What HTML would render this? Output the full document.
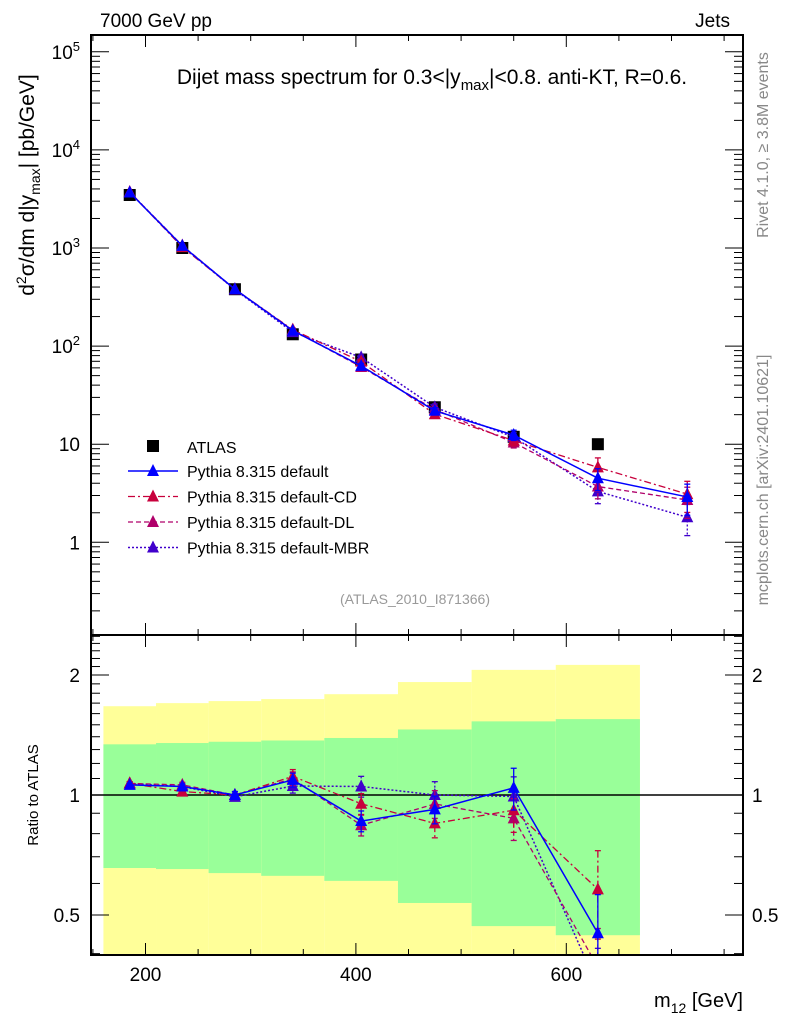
<!DOCTYPE html>
<html><head><meta charset="utf-8"><style>
body{margin:0;background:#fff;}
svg{display:block;font-family:"Liberation Sans",Arial,sans-serif;}
</style></head><body>
<svg id="c" width="786" height="1024" xmlns="http://www.w3.org/2000/svg">
<defs>
<clipPath id="clipMain"><rect x="91" y="35" width="652" height="600"/></clipPath>
<clipPath id="clipRatio"><rect x="91" y="635" width="652" height="320"/></clipPath>
</defs>
<g id="bands" clip-path="url(#clipRatio)"></g>
<g id="marks"></g>
<g id="axes"></g>
<text x="100" y="27" font-size="19">7000 GeV pp</text>
<text x="730" y="27" font-size="19" text-anchor="end">Jets</text>
<text x="432" y="84" font-size="21" text-anchor="middle">Dijet mass spectrum for 0.3&lt;|y<tspan font-size="15" dy="6">max</tspan><tspan dy="-6">|&lt;0.8.  anti-KT, R=0.6.</tspan></text>
<text x="415" y="604" font-size="14" fill="#999" text-anchor="middle">(ATLAS_2010_I871366)</text>
<text transform="translate(768,145) rotate(-90)" font-size="16" fill="#888" text-anchor="middle">Rivet 4.1.0, ≥ 3.8M events</text>
<text transform="translate(768,480) rotate(-90)" font-size="16" fill="#888" text-anchor="middle">mcplots.cern.ch [arXiv:2401.10621]</text>
<text transform="translate(34,185) rotate(-90)" font-size="21" text-anchor="middle">d<tspan font-size="14" dy="-8">2</tspan><tspan dy="8">σ/dm d|y</tspan><tspan font-size="14" dy="6">max</tspan><tspan dy="-6">| [pb/GeV]</tspan></text>
<text transform="translate(38,795) rotate(-90)" font-size="15" text-anchor="middle">Ratio to ATLAS</text>
<text x="743" y="1007" font-size="20" text-anchor="end">m<tspan font-size="14" dy="6">12</tspan><tspan dy="-6"> [GeV]</tspan></text>
</svg>
<script>
const xCenters=[185,235,285,340,405,475,550,630,715];
const atlas=[3470,1000,380,132,73,23.8,11.9,10.0];
const mcDefault=[3680,1050,380,144,62.8,21.9,12.4,4.5,2.9];
const mcCD=[3710,1020,380,147,69.4,20.2,10.9,5.8,3.1];
const mcDL=[3710,1060,380,145,61.3,22.6,10.4,3.7,2.7];
const mcMBR=[3710,1050,376,139,76.7,23.8,11.8,3.3,1.8];
const mcRelErr=[0.01,0.015,0.02,0.04,0.06,0.08,0.12,0.25,0.35];
const binEdges=[160,210,260,310,370,440,510,590,670];
const yellowUp=[1.67,1.70,1.72,1.74,1.79,1.92,2.06,2.12];
const yellowLo=[0.30,0.30,0.30,0.30,0.30,0.30,0.30,0.30];
const greenUp=[1.34,1.35,1.36,1.37,1.39,1.46,1.53,1.55];
const greenLo=[0.656,0.652,0.637,0.627,0.609,0.536,0.469,0.445];
const xTicks=[200,400,600];
const mainTickLabels=["1","10","10^2","10^3","10^4","10^5"];
const ratioTicks=[0.5,1,2];

const NS="http://www.w3.org/2000/svg";
const X=m=>145.5+(m-200)*1.052;
const YM=v=>542.3-98.1*Math.log10(v);
const YR=r=>795-398.7*Math.log10(r);
function el(tag,attrs,parent){const e=document.createElementNS(NS,tag);for(const k in attrs)e.setAttribute(k,attrs[k]);parent.appendChild(e);return e;}
const bands=document.getElementById('bands'),marks=document.getElementById('marks'),axes=document.getElementById('axes');

for(let i=0;i<binEdges.length-1;i++){
  const x0=X(binEdges[i]),x1=X(binEdges[i+1]);
  const y=el('rect',{x:x0,y:YR(yellowUp[i]),width:x1-x0,height:YR(yellowLo[i])-YR(yellowUp[i]),fill:'#ffff99'},bands);
  
  
  const g=el('rect',{x:x0,y:YR(greenUp[i]),width:x1-x0,height:YR(greenLo[i])-YR(greenUp[i]),fill:'#99ff99'},bands);
  
  
}
const one=el('line',{x1:91,x2:743,y1:YR(1),y2:YR(1),stroke:'#000','stroke-width':1.5},marks);



const gMain=el('g',{'clip-path':'url(#clipMain)'},marks);
const gRatio=el('g',{'clip-path':'url(#clipRatio)'},marks);
function tri(parent,x,y,c){return el('polygon',{points:`${x-6},${y+5} ${x+6},${y+5} ${x},${y-7}`,fill:c},parent);}
function ebar(parent,x,y1,y2,s){el('line',{x1:x,x2:x,y1:y1,y2:y2,stroke:s.color,'stroke-width':1.3,'stroke-dasharray':s.dash},parent);
  el('line',{x1:x-3,x2:x+3,y1:y1,y2:y1,stroke:s.color,'stroke-width':1.3},parent);
  el('line',{x1:x-3,x2:x+3,y1:y2,y2:y2,stroke:s.color,'stroke-width':1.3},parent);}
const series=[
 {name:'default',vals:mcDefault,color:'#0000ff',dash:'',w:1.5},
 {name:'default-CD',vals:mcCD,color:'#c8003c',dash:'7,3,2,3',w:1.3},
 {name:'default-DL',vals:mcDL,color:'#b0006a',dash:'5,3',w:1.3},
 {name:'default-MBR',vals:mcMBR,color:'#4000cc',dash:'2,2',w:1.5}];
atlas.forEach((v,i)=>{const r=el('rect',{x:X(xCenters[i])-6,y:YM(v)-6,width:12,height:12,fill:'#000'},gMain);
 
 });
series.slice().reverse().forEach(s=>{
  const pm=s.vals.map((v,i)=>X(xCenters[i])+','+YM(v)).join(' ');
  const l=el('polyline',{points:pm,fill:'none',stroke:s.color,'stroke-width':s.w,'stroke-dasharray':s.dash},gMain);
  
  
  s.vals.forEach((v,i)=>{const x=X(xCenters[i]),e=mcRelErr[i];
    ebar(gMain,x,YM(v*(1+e)),YM(v*(1-e)),s);
    const t=tri(gMain,x,YM(v),s.color);
    
    });
  const rv=atlas.map((a,i)=>s.vals[i]/a);
  const pr=rv.map((r,i)=>X(xCenters[i])+','+YR(r)).join(' ');
  const lr=el('polyline',{points:pr,fill:'none',stroke:s.color,'stroke-width':s.w,'stroke-dasharray':s.dash},gRatio);
  
  
  rv.forEach((r,i)=>{const x=X(xCenters[i]),e=mcRelErr[i];
    ebar(gRatio,x,YR(r*(1+e)),YR(r*(1-e)),s);
    const t=tri(gRatio,x,YR(r),s.color);
    
    });
});
const lg=el('g',{},marks);


const sq=el('rect',{x:147,y:440,width:12,height:12,fill:'#000'},lg);


const lt=el('text',{x:187,y:453,'font-size':16},lg);lt.textContent='ATLAS';


series.forEach((s,i)=>{const y=471+i*25.5;
  el('line',{x1:128,x2:178,y1:y,y2:y,stroke:s.color,'stroke-width':s.w,'stroke-dasharray':s.dash},lg);
  tri(lg,153,y,s.color);
  const t=el('text',{x:187,y:y+6,'font-size':16},lg);t.textContent='Pythia 8.315 '+s.name;
  
  });
[[35,600],[635,320]].forEach(([y,h],k)=>{const f=el('rect',{x:91,y:y,width:652,height:h,fill:'none',stroke:'#000','stroke-width':2},axes);
 
 });
for(let m=150;m<=765;m+=50){const x=X(m);const major=(m%200===0);const L=major?12:6;
  [[635,-1],[955,-1],[35,1],[635,1]].forEach(([y,d])=>el('line',{x1:x,x2:x,y1:y,y2:y+d*L,stroke:'#000','stroke-width':1},axes));}
xTicks.forEach(m=>{const t=el('text',{x:X(m),y:981,'font-size':19,'text-anchor':'middle'},axes);t.textContent=m;
 
 });
for(let d=-1;d<=5;d++){for(let k=1;k<=9;k++){const v=k*Math.pow(10,d);const y=YM(v);if(y<35||y>635)continue;const L=k===1?18:9;
  el('line',{x1:91,x2:91+L,y1:y,y2:y,stroke:'#000'},axes);el('line',{x1:743,x2:743-L,y1:y,y2:y,stroke:'#000'},axes);}}
mainTickLabels.forEach((lab,d)=>{const y=YM(Math.pow(10,d))+7;const t=el('text',{x:80,y:y,'font-size':19,'text-anchor':'end'},axes);
  if(lab.indexOf('^')>0){const p=lab.split('^');t.textContent=p[0];const s=el('tspan',{dy:-8,'font-size':13},t);s.textContent=p[1];}
  else t.textContent=lab;
  
  });
for(let r=0.4;r<=2.55;r+=0.1){const rr=Math.round(r*10)/10;const y=YR(rr);const major=(rr===0.5||rr===1||rr===2);const L=major?18:9;
  el('line',{x1:91,x2:91+L,y1:y,y2:y,stroke:'#000'},axes);el('line',{x1:743,x2:743-L,y1:y,y2:y,stroke:'#000'},axes);}
ratioTicks.forEach(r=>{const y=YR(r)+7;
  const a=el('text',{x:80,y:y,'font-size':19,'text-anchor':'end'},axes);a.textContent=r;
  
  
  const b=el('text',{x:752,y:y,'font-size':19},axes);b.textContent=r;
  
  });
</script>
</body></html>
